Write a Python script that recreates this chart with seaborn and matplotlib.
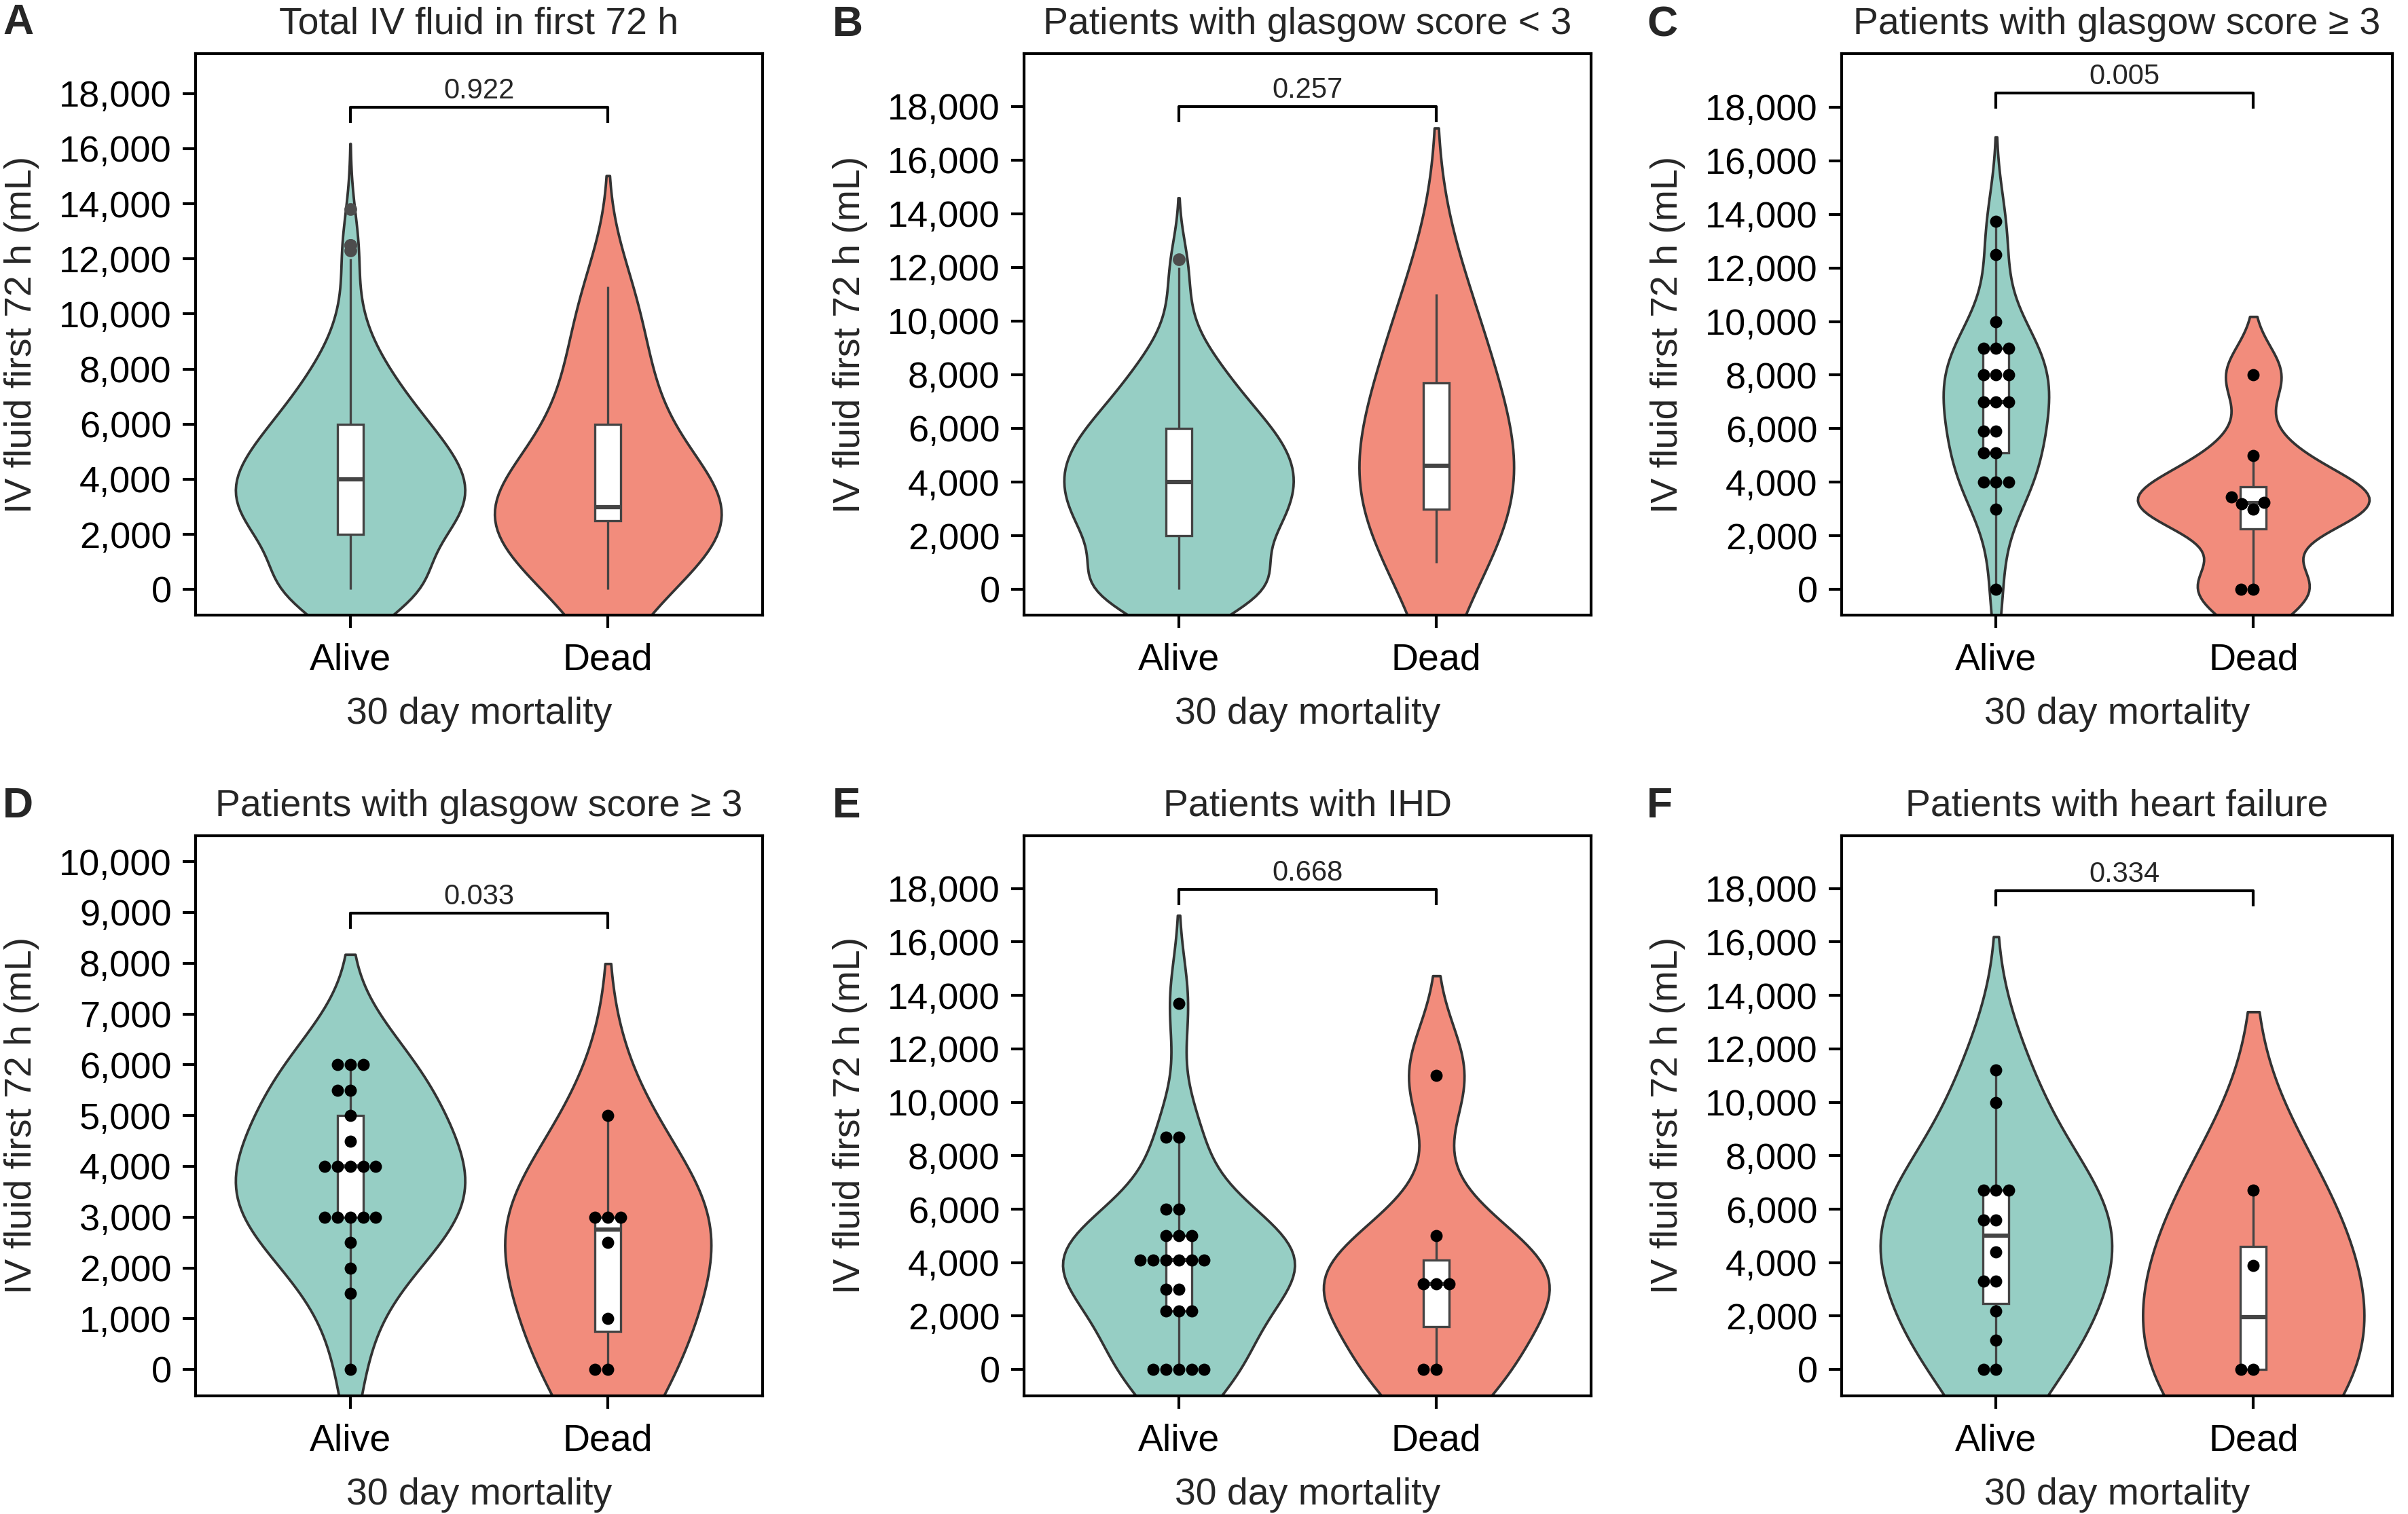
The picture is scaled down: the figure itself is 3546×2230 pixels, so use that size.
import numpy as np
import pandas as pd
import matplotlib
matplotlib.use("Agg")
import matplotlib.pyplot as plt
import seaborn as sns
from matplotlib.ticker import FuncFormatter

# ---------------- data ----------------
groups = ["Alive", "Dead"]
titles = [
    "Total IV fluid in first 72 h",
    "Patients with glasgow score < 3",
    "Patients with glasgow score \u2265 3",
    "Patients with glasgow score \u2265 3",
    "Patients with IHD",
    "Patients with heart failure",
]
letters = ["A", "B", "C", "D", "E", "F"]
p_values = ["0.922", "0.257", "0.005", "0.033", "0.668", "0.334"]

# Panel A (whole cohort): observed values and their counts
a_alive_values = [0, 500, 1000, 1500, 2000, 2500, 3000, 3500, 4000, 4500, 5000, 5500,
                  6000, 6500, 7000, 7500, 8000, 8500, 9000, 10000, 11000, 12000,
                  12300, 12500, 13800]
a_alive_counts = [34, 1, 2, 4, 18, 10, 16, 10, 18, 10, 14, 6,
                  13, 5, 7, 4, 6, 2, 3, 3, 1, 1,
                  1, 2, 1]
a_dead_values = [0, 1000, 1500, 2000, 2500, 3000, 3500, 4000, 5000, 6000, 7000,
                 8000, 9000, 10000, 11000]
a_dead_counts = [4, 3, 2, 1, 5, 8, 2, 2, 2, 3, 2, 2, 1, 2, 2]

# Panel B (glasgow < 3)
b_alive_values = [0, 1000, 1500, 2000, 2500, 3000, 3500, 4000, 4500, 5000, 5500,
                  6000, 6500, 7000, 7500, 8000, 8500, 9000, 10000, 11000, 12000, 12300]
b_alive_counts = [30, 3, 3, 12, 8, 9, 6, 14, 7, 11, 5,
                  12, 4, 6, 3, 6, 2, 3, 2, 1, 2, 1]
b_dead = [1000, 2000, 3000, 3000, 4000, 4400, 4800, 6000, 7500, 8300, 10000, 11000]

# Panel C (glasgow >= 3)
c_alive = [0, 3000, 4000, 4000, 4000, 5100, 5100, 5900, 5900, 7000, 7000, 7000,
           8000, 8000, 8000, 9000, 9000, 9000, 10000, 12500, 13750]
c_dead = [0, 0, 3000, 3200, 3250, 3450, 5000, 8000]

# Panel D (glasgow >= 3, second measure)
d_alive = [0, 1500, 2000, 2500, 3000, 3000, 3000, 3000, 3000, 4000, 4000, 4000, 4000,
           4000, 4500, 5000, 5500, 5500, 6000, 6000, 6000]
d_dead = [0, 0, 1000, 2500, 3000, 3000, 3000, 5000]

# Panel E (IHD)
e_alive = [0, 0, 0, 0, 0, 2200, 2200, 2200, 3000, 3000, 4100, 4100, 4100, 4100, 4100,
           4100, 5000, 5000, 5000, 6000, 6000, 8700, 8700, 13700]
e_dead = [0, 0, 3200, 3200, 3200, 5000, 11000]

# Panel F (heart failure)
f_alive = [0, 0, 1100, 2200, 3300, 3300, 4400, 5600, 5600, 6700, 6700, 6700, 10000, 11200]
f_dead = [0, 0, 3900, 6700]

# ---------------- style ----------------
TEAL = "#96CEC4"
SALMON = "#F28C7C"
EDGE = "#333333"
BOXLINE = "#444444"

sns.set_style("ticks")
plt.rcParams["font.family"] = ["Liberation Sans", "DejaVu Sans"]
plt.rcParams["axes.linewidth"] = 1.0
plt.rcParams["axes.edgecolor"] = "black"

W, H = 3546, 2230
fig = plt.figure(figsize=(W / 300, H / 300), dpi=300)

col_x0 = [288, 1508, 2712]
col_w = [835, 835, 811]
col_xmax = [1.6, 1.6, 1.54]
row_top = [79, 1231]
row_h = [827, 825]
letter_xy = [(4, 50), (1226, 53), (2425, 53), (4, 1204), (1226, 1204), (2425, 1204)]

panels = [
    dict(alive=np.repeat(a_alive_values, a_alive_counts), dead=np.repeat(a_dead_values, a_dead_counts),
         points=False, widths=(0.89, 0.88), bw=(1.15, 1.36), ylim=(-930, 19450), step=2000, bracket=17500),
    dict(alive=np.repeat(b_alive_values, b_alive_counts), dead=np.array(b_dead),
         points=False, widths=(0.89, 0.60), bw=(1.05, 1.6), ylim=(-960, 19970), step=2000, bracket=18000),
    dict(alive=np.array(c_alive), dead=np.array(c_dead),
         points=True, widths=(0.41, 0.90), bw=(0.91, 0.64), ylim=(-960, 20000), step=2000, bracket=18530),
    dict(alive=np.array(d_alive), dead=np.array(d_dead),
         points=True, widths=(0.89, 0.80), bw=(1.26, 1.31), ylim=(-520, 10510), step=1000, bracket=8980),
    dict(alive=np.array(e_alive), dead=np.array(e_dead),
         points=True, widths=(0.90, 0.876), bw=(0.96, 0.74), ylim=(-985, 19970), step=2000, bracket=17965),
    dict(alive=np.array(f_alive), dead=np.array(f_dead),
         points=True, widths=(0.90, 0.86), bw=(1.24, 1.35), ylim=(-985, 19970), step=2000, bracket=17910),
]

fmt = FuncFormatter(lambda v, p: f"{int(round(v)):,}")

for i, pan in enumerate(panels):
    r, c = divmod(i, 3)
    ax = fig.add_axes([col_x0[c] / W, 1 - (row_top[r] + row_h[r]) / H, col_w[c] / W, row_h[r] / H])
    df = pd.DataFrame({
        "group": ["Alive"] * len(pan["alive"]) + ["Dead"] * len(pan["dead"]),
        "value": np.concatenate([pan["alive"], pan["dead"]]).astype(float),
    })
    for g, colr, w, bw in zip(groups, [TEAL, SALMON], pan["widths"], pan["bw"]):
        sns.violinplot(data=df[df["group"] == g], x="group", y="value", order=groups,
                       color=colr, saturation=1, width=w, bw_adjust=bw, cut=2,
                       density_norm="width", inner=None, linewidth=0.9, linecolor=EDGE, ax=ax)
    sns.boxplot(data=df, x="group", y="value", order=groups, width=0.1, color="white",
                saturation=1, linecolor=BOXLINE, linewidth=0.8, showcaps=False,
                showfliers=not pan["points"],
                medianprops=dict(color=BOXLINE, linewidth=1.5),
                flierprops=dict(marker="o", markerfacecolor="#4d4d4d",
                                markeredgecolor="#4d4d4d", markersize=3.5),
                ax=ax)
    if pan["points"]:
        sns.swarmplot(data=df, x="group", y="value", order=groups, color="black",
                      size=4.3, zorder=4, ax=ax)

    ax.set_xlim(-0.6, col_xmax[c])
    ax.set_ylim(*pan["ylim"])
    top_tick = 10000 if pan["step"] == 1000 else 18000
    ax.set_yticks(np.arange(0, top_tick + 1, pan["step"]))
    ax.yaxis.set_major_formatter(fmt)
    ax.tick_params(axis="both", length=4.5, width=1.0, labelsize=13, colors="black")
    ax.tick_params(axis="y", pad=4)
    ax.tick_params(axis="x", labelsize=13.3, pad=5.3)
    for s in ax.spines.values():
        s.set_linewidth(1.0)
        s.set_color("black")
    ax.set_xlabel("30 day mortality", fontsize=13.3, labelpad=6.5)
    ax.set_ylabel("IV fluid first 72 h (mL)", fontsize=13.3, labelpad=7)
    ax.set_title(titles[i], fontsize=13.3, pad=7)

    # significance bracket
    y0, y1 = pan["ylim"]
    leg = 23 / row_h[r] * (y1 - y0)
    by = pan["bracket"]
    ax.plot([0, 0, 1, 1], [by - leg, by, by, by - leg], color="black", lw=1.0,
            solid_capstyle="butt", zorder=5)
    ax.annotate(p_values[i], xy=(0.5, by), xytext=(0, 3.2), textcoords="offset points",
                ha="center", va="baseline", fontsize=10)

    lx, ly = letter_xy[i]
    fig.text(lx / W, 1 - ly / H, letters[i], fontsize=15, fontweight="bold",
             ha="left", va="baseline",
             family=["Liberation Sans Narrow", "Liberation Sans", "DejaVu Sans"])

fig.savefig("out.png", dpi=300)
